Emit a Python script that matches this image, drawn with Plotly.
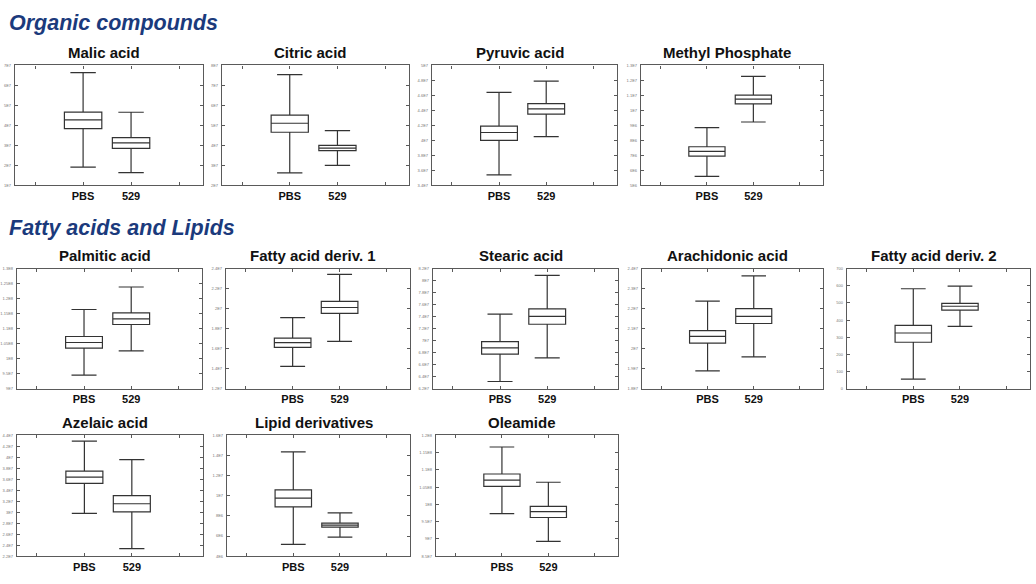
import math
import plotly.graph_objects as go

# ---------------- data ----------------
categories = ["PBS", "529"]
x_ticktext = ["", "PBS", "529", ""]

panel_titles = ["Malic acid", "Citric acid", "Pyruvic acid", "Methyl Phosphate",
                "Palmitic acid", "Fatty acid deriv. 1", "Stearic acid", "Arachidonic acid",
                "Fatty acid deriv. 2", "Azelaic acid", "Lipid derivatives", "Oleamide"]

section_titles = ["Organic compounds", "Fatty acids and Lipids"]

# [PBS, 529] per panel
lowerfence = [[1.92e7, 1.64e7], [2.63e7, 3.00e7], [3.54e7, 4.05e7], [5.60e6, 9.23e6],
              [9.45e7, 1.026e8], [1.423e7, 1.673e7], [6.32e7, 6.715e7], [1.889e7, 1.959e7],
              [56, 363], [2.981e7, 2.34e7], [5.18e6, 5.90e6], [9.73e7, 8.93e7]]
q1 = [[3.84e7, 2.85e7], [4.66e7, 3.74e7], [4.00e7, 4.35e7], [6.96e6, 1.044e7],
      [1.035e8, 1.114e8], [1.614e7, 1.953e7], [6.775e7, 7.274e7], [2.028e7, 2.126e7],
      [271, 458], [3.526e7, 3.005e7], [8.89e6, 6.89e6], [1.052e8, 9.62e7]]
median = [[4.28e7, 3.13e7], [5.11e7, 3.87e7], [4.106e7, 4.42e7], [7.27e6, 1.075e7],
          [1.054e8, 1.133e8], [1.660e7, 2.012e7], [6.88e7, 7.405e7], [2.062e7, 2.162e7],
          [325, 481], [3.64e7, 3.154e7], [9.77e6, 7.08e6], [1.070e8, 9.79e7]]
q3 = [[4.67e7, 3.39e7], [5.52e7, 4.00e7], [4.19e7, 4.49e7], [7.58e6, 1.102e7],
      [1.074e8, 1.153e8], [1.706e7, 2.074e7], [6.984e7, 7.532e7], [2.090e7, 2.200e7],
      [369, 498], [3.747e7, 3.304e7], [1.059e7, 7.28e6], [1.088e8, 9.94e7]]
upperfence = [[6.64e7, 4.66e7], [7.54e7, 4.74e7], [4.64e7, 4.79e7], [8.86e6, 1.227e7],
              [1.164e8, 1.239e8], [1.91e7, 2.344e7], [7.444e7, 8.09e7], [2.238e7, 2.364e7],
              [583, 598], [4.292e7, 3.957e7], [1.436e7, 8.30e6], [1.166e8, 1.064e8]]

# y axis: [min, max, step]
y_min = [1e7, 2e7, 3.4e7, 5e6, 9e7, 1.2e7, 6.2e7, 1.8e7, 0, 2.2e7, 4e6, 8.5e7]
y_max = [7e7, 8e7, 5e7, 1.3e7, 1.3e8, 2.4e7, 8.2e7, 2.4e7, 700, 4.4e7, 1.6e7, 1.2e8]
y_step = [1e7, 1e7, 2e6, 1e6, 5e6, 2e6, 2e6, 1e6, 100, 2e6, 2e6, 5e6]

# ---------------- layout geometry (pixels) ----------------
W, H = 1036, 584
frames = [  # x0, x1, y0(top), y1(bottom)
    (15, 203, 63, 184), (222, 409, 63, 184), (432, 617, 63, 184), (641, 823, 63, 184),
    (17, 202, 268, 389), (226, 410, 268, 389), (433, 618, 268, 389), (642, 823, 268, 389),
    (847, 1030, 268, 389),
    (17, 203, 436, 558), (227, 410, 436, 558), (436, 618, 436, 558),
]
title_y = [50, 50, 50, 50, 255, 255, 255, 255, 255, 423, 423, 423]


def fmt(v):
    if v == 0:
        return "0"
    if abs(v) < 1000:
        return f"{v:g}"
    e = int(math.floor(math.log10(abs(v)) + 1e-9))
    m = round(v / 10 ** e, 3)
    return f"{m:g}E{e}"


LINE = "#333333"
FRAME = "#5a5a5a"
FONT = "Arial, Liberation Sans, sans-serif"

fig = go.Figure()
layout = dict(
    width=W, height=H,
    margin=dict(l=0, r=0, t=0, b=0),
    paper_bgcolor="white", plot_bgcolor="white",
    showlegend=False,
    font=dict(family=FONT),
)
annotations = []

for i in range(12):
    n = i + 1
    xa = "x" if n == 1 else f"x{n}"
    ya = "y" if n == 1 else f"y{n}"
    fig.add_trace(go.Box(
        x=[1, 2],
        q1=q1[i], median=median[i], q3=q3[i],
        lowerfence=lowerfence[i], upperfence=upperfence[i],
        width=0.78, whiskerwidth=0.68,
        fillcolor="white",
        line=dict(color=LINE, width=1.2),
        boxpoints=False,
        xaxis=xa, yaxis=ya,
        name="", hoverinfo="y",
    ))
    x0, x1, y0, y1 = frames[i]
    nt = int(round((y_max[i] - y_min[i]) / y_step[i]))
    tv = [y_min[i] + k * y_step[i] for k in range(nt + 1)]
    tt = [fmt(v) for v in tv]
    layout["xaxis" if n == 1 else f"xaxis{n}"] = dict(
        domain=[x0 / W, x1 / W], anchor=ya,
        range=[-0.42, 3.5],
        tickmode="array", tickvals=[0, 1, 2, 3], ticktext=x_ticktext,
        ticks="inside", ticklen=3, tickcolor=FRAME, tickwidth=1,
        showline=True, linecolor=FRAME, linewidth=1.3, mirror="ticks",
        showgrid=False, zeroline=False, fixedrange=True,
        tickfont=dict(size=11, color="#111111", family=FONT, weight="bold"),
        ticklabelstandoff=0,
    )
    layout["yaxis" if n == 1 else f"yaxis{n}"] = dict(
        domain=[1 - y1 / H, 1 - y0 / H], anchor=xa,
        range=[y_min[i], y_max[i]],
        tickmode="array", tickvals=tv, ticktext=tt,
        ticks="inside", ticklen=3, tickcolor=FRAME, tickwidth=1,
        showline=True, linecolor=FRAME, linewidth=1.3, mirror="ticks",
        showgrid=False, zeroline=False, fixedrange=True,
        tickfont=dict(size=4, color="#777777"),
        ticklabelstandoff=2,
    )
    annotations.append(dict(
        text=f"<b>{panel_titles[i]}</b>", xref="paper", yref="paper",
        x=((x0 + x1) / 2 - 5) / W, y=1 - title_y[i] / H,
        xanchor="center", yanchor="middle", showarrow=False,
        font=dict(size=15, color="#111111", family=FONT),
    ))

for txt, ty in zip(section_titles, [20, 227]):
    annotations.append(dict(
        text=f"<b><i>{txt}</i></b>", xref="paper", yref="paper",
        x=7 / W, y=1 - ty / H, xanchor="left", yanchor="middle", showarrow=False,
        font=dict(size=21.5, color="#1b3a7c", family=FONT),
    ))

layout["annotations"] = annotations
fig.update_layout(**layout)
fig.write_html("out.html")
